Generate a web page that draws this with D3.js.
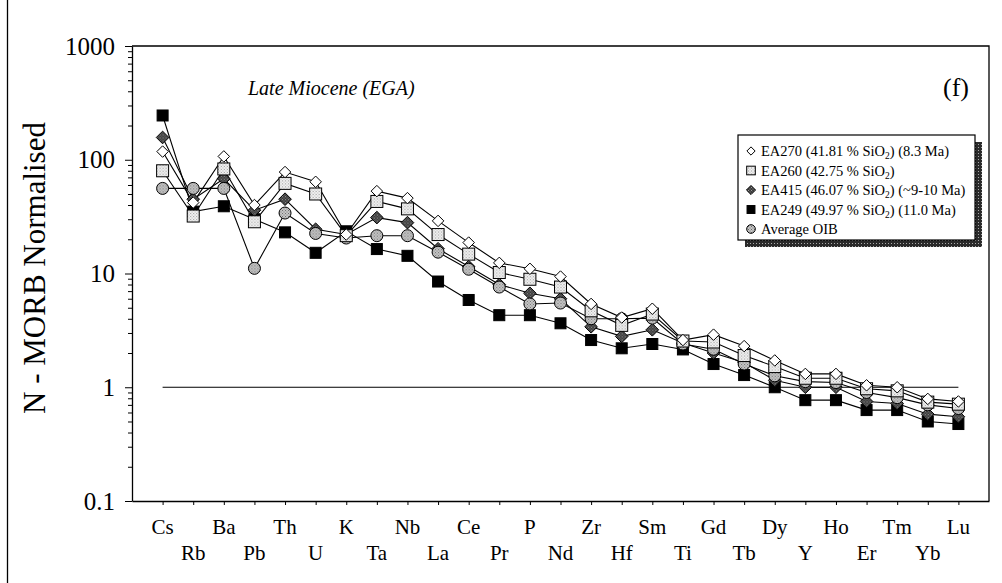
<!DOCTYPE html>
<html>
<head>
<meta charset="utf-8">
<script src="https://cdn.jsdelivr.net/npm/d3@7"></script>
<style>
  html, body { margin: 0; padding: 0; background: #fff; }
  svg { display: block; font-family: "Liberation Serif", "Times New Roman", serif; }
</style>
</head>
<body>
<svg id="chart" width="1002" height="583"></svg>
<script>
// Elements in spider-diagram order
const elements = ["Cs","Rb","Ba","Pb","Th","U","K","Ta","Nb","La","Ce","Pr","P","Nd",
                  "Zr","Hf","Sm","Ti","Gd","Tb","Dy","Y","Ho","Er","Tm","Yb","Lu"];

// N-MORB normalised concentrations
const ea270 = [118, 42, 107, 40, 78, 64, 22, 53, 46, 29, 18.7, 12.4, 11, 9.4, 5.4, 4.1, 4.9,
               2.6, 2.9, 2.3, 1.72, 1.31, 1.31, 1.04, 1.0, 0.79, 0.75];
const ea260 = [80, 32, 83, 28.5, 62, 50, 21.5, 43, 37, 22, 14.8, 10.2, 8.9, 7.6, 4.7, 3.5, 4.4,
               2.55, 2.5, 1.9, 1.52, 1.2, 1.2, 0.97, 0.93, 0.74, 0.71];
const ea415 = [157, 45, 68, 36, 45, 24.5, 22, 31, 28, 16.5, 11.5, 8, 6.7, 6.0, 3.4, 2.8, 3.2,
               2.45, 2.0, 1.65, 1.15, 1.0, 1.0, 0.75, 0.72, 0.58, 0.55];
const ea249 = [245, 35, 39, 30, 23, 15.2, 23.5, 16.4, 14.3, 8.5, 5.85, 4.3, 4.3, 3.65, 2.6, 2.2, 2.4,
               2.15, 1.6, 1.28, 1.0, 0.77, 0.77, 0.63, 0.63, 0.5, 0.475];
const oib   = [56, 56, 56, 11.1, 34, 22.5, 20.5, 21.5, 21.5, 15.4, 10.9, 7.6, 5.4, 5.5, 4.0, 4.0, 4.05,
               2.4, 2.16, 1.6, 1.26, 1.12, 1.1, 0.9, 0.81, 0.7, 0.65];

const yMajorTicks = [0.1, 1, 10, 100, 1000];
const yTickLabels = ["0.1", "1", "10", "100", "1000"];

const svg = d3.select("#chart");
const plotL = 132, plotR = 989, plotT = 46, plotB = 501;

// Fill patterns for the stippled symbols
const defs = svg.append("defs");
function stipple(id, bg, fg) {
  const p = defs.append("pattern").attr("id", id).attr("width", 3).attr("height", 3)
    .attr("patternUnits", "userSpaceOnUse");
  p.append("rect").attr("width", 3).attr("height", 3).attr("fill", bg);
  p.append("rect").attr("x", 0).attr("y", 0).attr("width", 1).attr("height", 1).attr("fill", fg);
  p.append("rect").attr("x", 1.5).attr("y", 1.5).attr("width", 1).attr("height", 1).attr("fill", fg);
}
stipple("lightDots", "#f4f4f4", "#999");
stipple("darkDots", "#3a3a3a", "#9a9a9a");
stipple("grayDots", "#c8c8c8", "#6a6a6a");
const hatch = defs.append("pattern").attr("id", "shadowHatch").attr("width", 3).attr("height", 3)
  .attr("patternUnits", "userSpaceOnUse");
hatch.append("rect").attr("width", 3).attr("height", 3).attr("fill", "#2a2a2a");
hatch.append("rect").attr("width", 1).attr("height", 1).attr("fill", "#aaa");

const series = [
  { name: "EA249", values: ea249, shape: "square",  fill: "#000",              size: 11 },
  { name: "EA415", values: ea415, shape: "diamond", fill: "url(#darkDots)",    size: 11 },
  { name: "OIB",   values: oib,   shape: "circle",  fill: "url(#grayDots)",    size: 12 },
  { name: "EA260", values: ea260, shape: "square",  fill: "url(#lightDots)",   size: 12 },
  { name: "EA270", values: ea270, shape: "diamond", fill: "#fff",              size: 10 }
];

const x = d3.scalePoint().domain(elements).range([plotL, plotR]).padding(1);
const y = d3.scaleLog().domain([0.1, 1000]).range([plotB, plotT]);

// Page edge line
svg.append("line").attr("x1", 7.5).attr("x2", 7.5).attr("y1", 0).attr("y2", 583)
  .attr("stroke", "#000").attr("stroke-width", 1.3);

// Axes
const minorTicks = [];
for (let e = -1; e < 3; e++) for (let k = 2; k <= 9; k++) minorTicks.push(k * Math.pow(10, e));

svg.append("g").attr("transform", `translate(${plotL},0)`)
  .call(d3.axisLeft(y).tickValues(minorTicks).tickSize(4).tickFormat(""))
  .call(g => g.select(".domain").remove());

const yAxis = svg.append("g").attr("transform", `translate(${plotL},0)`)
  .call(d3.axisLeft(y).tickValues(yMajorTicks).tickSize(7).tickSizeOuter(0)
    .tickPadding(10).tickFormat((d, i) => yTickLabels[i]));
yAxis.selectAll("text").attr("font-size", 25).attr("font-family", "Liberation Serif").attr("fill", "#000");
yAxis.select(".domain").attr("stroke-width", 1.3);

const xAxis = svg.append("g").attr("transform", `translate(0,${plotB})`)
  .call(d3.axisBottom(x).tickSize(4).tickSizeOuter(0).tickFormat(""));
xAxis.select(".domain").attr("stroke-width", 1.3);

// Staggered element labels
svg.append("g").selectAll("text").data(elements).join("text")
  .attr("x", d => x(d))
  .attr("y", (d, i) => i % 2 === 0 ? 534 : 560)
  .attr("text-anchor", "middle")
  .attr("font-size", 21)
  .text(d => d);

// Frame top and right
svg.append("path")
  .attr("d", `M${plotL},${plotT}H${plotR}V${plotB}`)
  .attr("fill", "none").attr("stroke", "#000").attr("stroke-width", 1.3);

// Unity reference line
svg.append("line")
  .attr("x1", x("Cs")).attr("x2", x("Lu"))
  .attr("y1", y(1)).attr("y2", y(1))
  .attr("stroke", "#000").attr("stroke-width", 1);

// Y title
svg.append("text")
  .attr("transform", "translate(45,268) rotate(-90)")
  .attr("text-anchor", "middle")
  .attr("font-size", 31)
  .text("N - MORB Normalised");

svg.append("text").attr("x", 248).attr("y", 95).attr("font-size", 20)
  .attr("font-style", "italic").text("Late Miocene (EGA)");
svg.append("text").attr("x", 943).attr("y", 96).attr("font-size", 26).text("(f)");

// Lines
const line = d3.line().x((d, i) => x(elements[i])).y(d => y(d));
svg.append("g").selectAll("path").data(series).join("path")
  .attr("d", s => line(s.values))
  .attr("fill", "none").attr("stroke", "#000").attr("stroke-width", 1.1);

function symbol(g, shape, size, fill) {
  const h = size / 2;
  if (shape === "square") {
    g.append("rect").attr("x", -h).attr("y", -h).attr("width", size).attr("height", size)
      .attr("fill", fill).attr("stroke", "#000").attr("stroke-width", 1);
  } else if (shape === "diamond") {
    const r = h * 1.15;
    g.append("path").attr("d", `M0,${-r}L${r},0L0,${r}L${-r},0Z`)
      .attr("fill", fill).attr("stroke", "#000").attr("stroke-width", 1);
  } else {
    g.append("circle").attr("r", h).attr("fill", fill).attr("stroke", "#000").attr("stroke-width", 1);
  }
}

// Markers
series.forEach(s => {
  const g = svg.append("g");
  s.values.forEach((v, i) => {
    const m = g.append("g").attr("transform", `translate(${x(elements[i])},${y(v)})`);
    symbol(m, s.shape, s.size, s.fill);
  });
});

// Legend with drop shadow
const lg = svg.append("g");
const lx = 738, ly = 135, lw = 237, lh = 105;
lg.append("rect").attr("x", lx + 7).attr("y", ly + 7).attr("width", lw).attr("height", lh)
  .attr("fill", "url(#shadowHatch)");
lg.append("rect").attr("x", lx).attr("y", ly).attr("width", lw).attr("height", lh)
  .attr("fill", "#fff").attr("stroke", "#000").attr("stroke-width", 1.2);

const legendItems = [
  { s: series[4], parts: ["EA270 (41.81 % SiO", "2", ") (8.3 Ma)"] },
  { s: series[3], parts: ["EA260 (42.75 % SiO", "2", ")"] },
  { s: series[1], parts: ["EA415 (46.07 % SiO", "2", ") (~9-10 Ma)"] },
  { s: series[0], parts: ["EA249 (49.97 % SiO", "2", ") (11.0 Ma)"] },
  { s: series[2], parts: ["Average OIB"] }
];
legendItems.forEach((it, i) => {
  const cy = ly + 16 + i * 19.5;
  const m = lg.append("g").attr("transform", `translate(${lx + 13},${cy})`);
  symbol(m, it.s.shape, it.s.size * 0.72, it.s.fill);
  const t = lg.append("text").attr("x", lx + 23).attr("y", cy + 5).attr("font-size", 14.5);
  t.append("tspan").text(it.parts[0]);
  if (it.parts.length > 1) {
    t.append("tspan").attr("font-size", 9.5).attr("dy", 3).text(it.parts[1]);
    t.append("tspan").attr("dy", -3).text(it.parts[2]);
  }
});
</script>
</body>
</html>
